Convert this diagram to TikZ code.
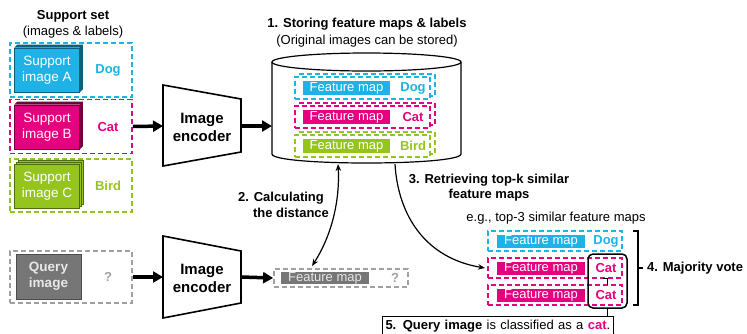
\documentclass[tikz,border=0pt]{standalone}
\usepackage{fontspec}
\setmainfont{Liberation Sans}
\usetikzlibrary{arrows.meta,calc}
\definecolor{cy}{RGB}{30,178,230}
\definecolor{cyd}{RGB}{12,95,125}
\definecolor{mg}{RGB}{228,0,127}
\definecolor{mgd}{RGB}{115,0,62}
\definecolor{gr}{RGB}{150,196,30}
\definecolor{grd}{RGB}{78,108,10}
\definecolor{qg}{RGB}{118,118,118}
\definecolor{dg}{RGB}{160,160,160}
\definecolor{lt}{RGB}{232,232,232}
\tikzset{mytip/.tip={Stealth[length=7pt,width=5.5pt]}}
\begin{document}
\begin{tikzpicture}[x=1pt,y=-1pt,
  every node/.style={font=\fontsize{13}{15}\selectfont, inner sep=0pt},
  dsh/.style={dash pattern=on 5pt off 3pt, line width=1.8pt},
  bigarrow/.style={line width=3.5pt, -{Triangle[length=10pt,width=11pt]}},
  setbox/.style={draw, dsh, minimum width=122pt, minimum height=54pt},
  img/.style={minimum width=65pt, minimum height=44pt, text=white, align=center, font=\fontsize{13.5}{16}\selectfont},
  lab/.style={font=\fontsize{13}{15}\selectfont\bfseries},
  fmap/.style={text=white, minimum width=87pt, minimum height=14pt},
  rowbox/.style={draw, dsh, fill=white, minimum width=135pt, minimum height=22pt},
  retbox/.style={draw, dsh, minimum width=134pt, minimum height=20pt},
  enc/.style={line width=1.6pt},
  enctext/.style={font=\fontsize{15}{18}\selectfont\bfseries, align=center},
]
\useasboundingbox (0,0) rectangle (747,333);

% ---- support set ----
\node[lab] (ts) at (73,16) {Support set};
\node (tsb) at (73,32) {(images \& labels)};

\node[setbox, draw=cy] (sA) at (71,70) {};
\node[img, fill=cy, draw=cyd, line width=0.6pt] (iA) at (47,70) {Support\\image A};
\fill[cyd] (iA.north west) -- ($(iA.north west)+(3,-3)$) -- ($(iA.north east)+(3,-3)$) -- ($(iA.south east)+(3,-3)$) -- (iA.south east) -- (iA.north east) -- cycle;
\node[lab, text=cy] (lA) at (108,70) {Dog};

\node[setbox, draw=mg] (sB) at (71,126.5) {};
\node[img, fill=mg, draw=mgd, line width=0.6pt] (iB) at (47,127) {Support\\image B};
\fill[mgd] (iB.north west) -- ($(iB.north west)+(3,-3)$) -- ($(iB.north east)+(3,-3)$) -- ($(iB.south east)+(3,-3)$) -- (iB.south east) -- (iB.north east) -- cycle;
\node[lab, text=mg] (lB) at (108,127) {Cat};

\node[setbox, draw=gr, minimum height=53pt] (sC) at (71,185.5) {};
\node[img, fill=gr, draw=grd, line width=0.6pt] (iCb2) at (51,182) {};
\node[img, fill=gr, draw=grd, line width=0.6pt] (iCb1) at (49,184) {};
\node[img, fill=gr, draw=grd, line width=0.6pt] (iC) at (47,186) {Support\\image C};
\node[lab, text=gr] (lC) at (108,186) {Bird};

% ---- query ----
\node[setbox, draw=dg, minimum height=52pt] (sQ) at (71,277) {};
\node[img, fill=qg, draw=black!70, line width=0.6pt, minimum height=45pt, text=lt, font=\fontsize{13.5}{16}\selectfont\bfseries] (iQ) at (48.5,276.5) {Query\\image};
\node[lab, text=dg] (lQ) at (108,277) {?};

% ---- encoders ----
\draw[enc] (163,85) -- (241,99) -- (241,152) -- (163,166) -- cycle;
\node[enctext] (e1) at (202,127) {Image\\encoder};
\coordinate (e1w) at (163,126);
\coordinate (e1e) at (241,126);

\draw[enc] (163,236) -- (241,251) -- (241,303) -- (163,318) -- cycle;
\node[enctext] (e2) at (202,278) {Image\\encoder};
\coordinate (e2w) at (163,277);
\coordinate (e2e) at (241,277);

% ---- database ----
\node[lab] (t1) at (367,24) {1. Storing feature maps \& labels};
\node (t1b) at (367,41) {(Original images can be stored)};
\draw[line width=1.2pt] (272,62) -- (272,154) .. controls (272,166) and (461,166) .. (461,154) -- (461,62);
\draw[line width=1.2pt] (366.5,62) ellipse [x radius=94.5, y radius=9];
\coordinate (cylW) at (272,126);
\coordinate (cylB1) at (338,164);
\coordinate (cylB2) at (395,164);

\node[rowbox, draw=cy] (rAb) at (367.5,85) {};
\node[rowbox, draw=cy] (rA) at (362.5,88) {};
\node[fmap, fill=cy] (fA) at (346.5,88) {Feature map};
\node[lab, text=cy] (dA) at (413,88) {Dog};

\node[rowbox, draw=mg] (rBb) at (367.5,114) {};
\node[rowbox, draw=mg] (rB) at (362.5,117) {};
\node[fmap, fill=mg] (fB) at (346.5,117) {Feature map};
\node[lab, text=mg] (dB) at (413,117) {Cat};

\node[rowbox, draw=gr] (rCb) at (367.5,143) {};
\node[rowbox, draw=gr] (rC) at (362.5,146) {};
\node[fmap, fill=gr] (fC) at (346.5,146) {Feature map};
\node[lab, text=gr] (dC) at (413,146) {Bird};

% ---- query feature map ----
\node[draw=dg, dsh, minimum width=134pt, minimum height=18pt] (qf) at (341,278) {};
\node[fmap, fill=qg, minimum width=88pt, minimum height=12pt, text=lt] (qfm) at (325,278) {Feature map};
\node[lab, text=dg] (qq) at (395,278) {?};

% ---- thick arrows ----
\draw[bigarrow] (sB.east) -- (e1w);
\draw[bigarrow] (e1e) -- (cylW);
\draw[bigarrow] (sQ.east) -- (e2w);
\draw[bigarrow] (e2e) -- (qf.west);

% ---- step 2 ----
\coordinate (c2e) at (312,266);
\draw[line width=1.2pt, mytip-mytip] (cylB1) .. controls (340,200) and (332,235) .. (c2e);
\node[lab] (l2a) at (281,198) {2. Calculating};
\node[lab] (l2b) at (291,213) {the distance};

% ---- step 3 ----
\node[lab, align=center] (l3) at (489,187.5) {3. Retrieving top-k similar\\feature maps};
\node (eg) at (556,218) {e.g., top-3 similar feature maps};

\node[retbox, draw=cy] (rt1) at (555,241) {};
\node[fmap, fill=cy, minimum width=88pt, minimum height=13pt] (ft1) at (541,241) {Feature map};
\node[lab, text=cy] (ct1) at (606,241) {Dog};

\node[retbox, draw=mg] (rt2) at (555,268) {};
\node[fmap, fill=mg, minimum width=88pt, minimum height=13pt] (ft2) at (541,268) {Feature map};
\node[lab, text=mg] (ct2) at (606,268) {Cat};

\node[retbox, draw=mg] (rt3) at (555,295) {};
\node[fmap, fill=mg, minimum width=88pt, minimum height=13pt] (ft3) at (541,295) {Feature map};
\node[lab, text=mg] (ct3) at (606,295) {Cat};

\coordinate (c3e) at (485,268);
\draw[line width=1.2pt, -mytip] (cylB2) .. controls (398,215) and (425,258) .. (c3e);

% ---- step 4 ----
\node[draw, line width=1.5pt, rounded corners=5pt, minimum width=39pt, minimum height=54pt] (vb) at (607.5,281) {};
\draw[line width=0.8pt] (603,278) -- (607.5,278) -- (607.5,285);
\draw[line width=1.2pt] (633,231) -- (638,231) -- (638,305) -- (633,305);
\coordinate (brk) at (638,268);
\node[lab, anchor=west] (l4) at (647,268) {4. Majority vote};
\draw[line width=1.2pt] (brk) -- (l4.west -| 643,0);

% ---- step 5 ----
\node[draw, line width=1pt, anchor=north west, minimum width=231pt, minimum height=20pt, inner xsep=3pt, text width=225pt, align=left] (b5) at (382,316) {\textbf{5. Query image} is classified as a \textbf{\textcolor{mg}{cat}}.};
\draw[line width=1pt] (vb.south) -- (vb.south |- b5.north);
\end{tikzpicture}
\end{document}
